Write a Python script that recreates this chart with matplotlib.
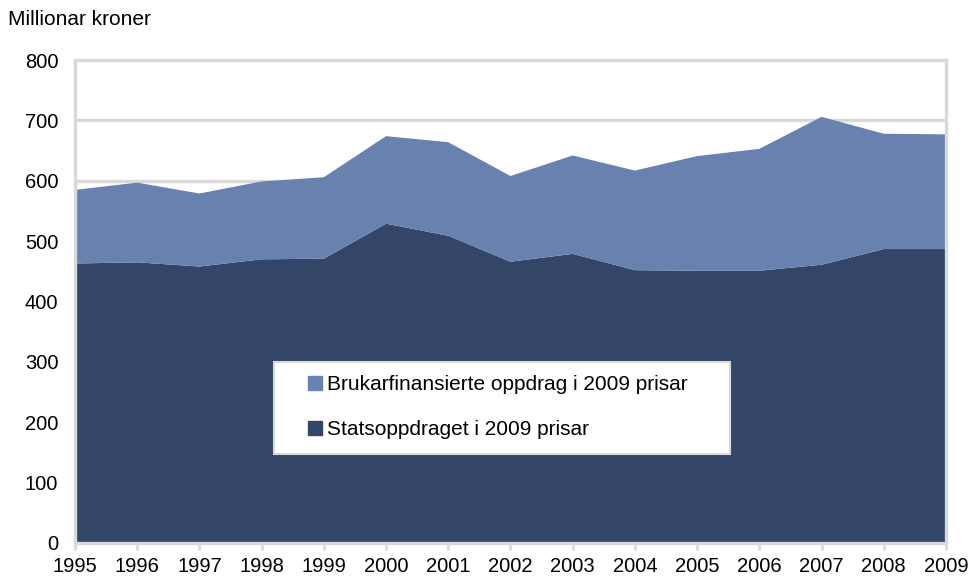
import numpy as np
import matplotlib.pyplot as plt
from matplotlib.patches import Rectangle

plt.rcParams['font.family'] = ['Liberation Sans', 'DejaVu Sans']

years = list(range(1995, 2010))
# state-funded part (bottom layer), million NOK in 2009 prices
stat = [463, 465, 458, 470, 471, 529, 509, 466, 479, 452, 451, 451, 461, 487, 487]
# user-funded part (top layer)
bruk = [122, 132, 121, 129, 135, 145, 155, 142, 163, 165, 190, 202, 245, 191, 190]
yticks = [0, 100, 200, 300, 400, 500, 600, 700, 800]

c_bruk = "#6981AF"
c_stat = "#344667"
c_grid = "#D9D9D9"

fig = plt.figure(figsize=(9.8, 5.78), dpi=100)
ax = fig.add_axes([0.0765, 0.0606, 0.8888, 0.8354])

ax.stackplot(years, stat, bruk, colors=[c_stat, c_bruk], linewidth=0, zorder=2)

ax.set_xlim(1995, 2009)
ax.set_ylim(0, 800)
ax.set_xticks(years)
ax.set_yticks(yticks)
ax.tick_params(axis="x", labelsize=14.5, length=5, width=2, color=c_grid, pad=5)
ax.tick_params(axis="y", labelsize=14.5, length=0, pad=12)
ax.yaxis.grid(True, color=c_grid, linewidth=2.4, zorder=0)
ax.set_axisbelow(True)
for s in ax.spines.values():
    s.set_color(c_grid)
    s.set_linewidth(2.4)
ax.spines["bottom"].set_zorder(3)

fig.text(0.008, 0.966, "Millionar kroner", fontsize=15, va="center", ha="left")

# legend box
ax.add_patch(Rectangle((0.228, 0.184), 0.524, 0.191, transform=ax.transAxes,
                       facecolor="white", edgecolor=c_grid, linewidth=1.5, zorder=4))
leg = ax.legend(
    handles=[plt.Rectangle((0, 0), 1, 1, color=c_bruk), plt.Rectangle((0, 0), 1, 1, color=c_stat)],
    labels=["Brukarfinansierte oppdrag i 2009 prisar", "Statsoppdraget i 2009 prisar"],
    loc="upper left", bbox_to_anchor=(0.268, 0.347), frameon=False, fontsize=15,
    handlelength=0.65, handleheight=0.65, handletextpad=0.25, labelspacing=1.25,
    borderpad=0, borderaxespad=0,
)
leg.set_zorder(5)

fig.savefig("out.png", dpi=100)
